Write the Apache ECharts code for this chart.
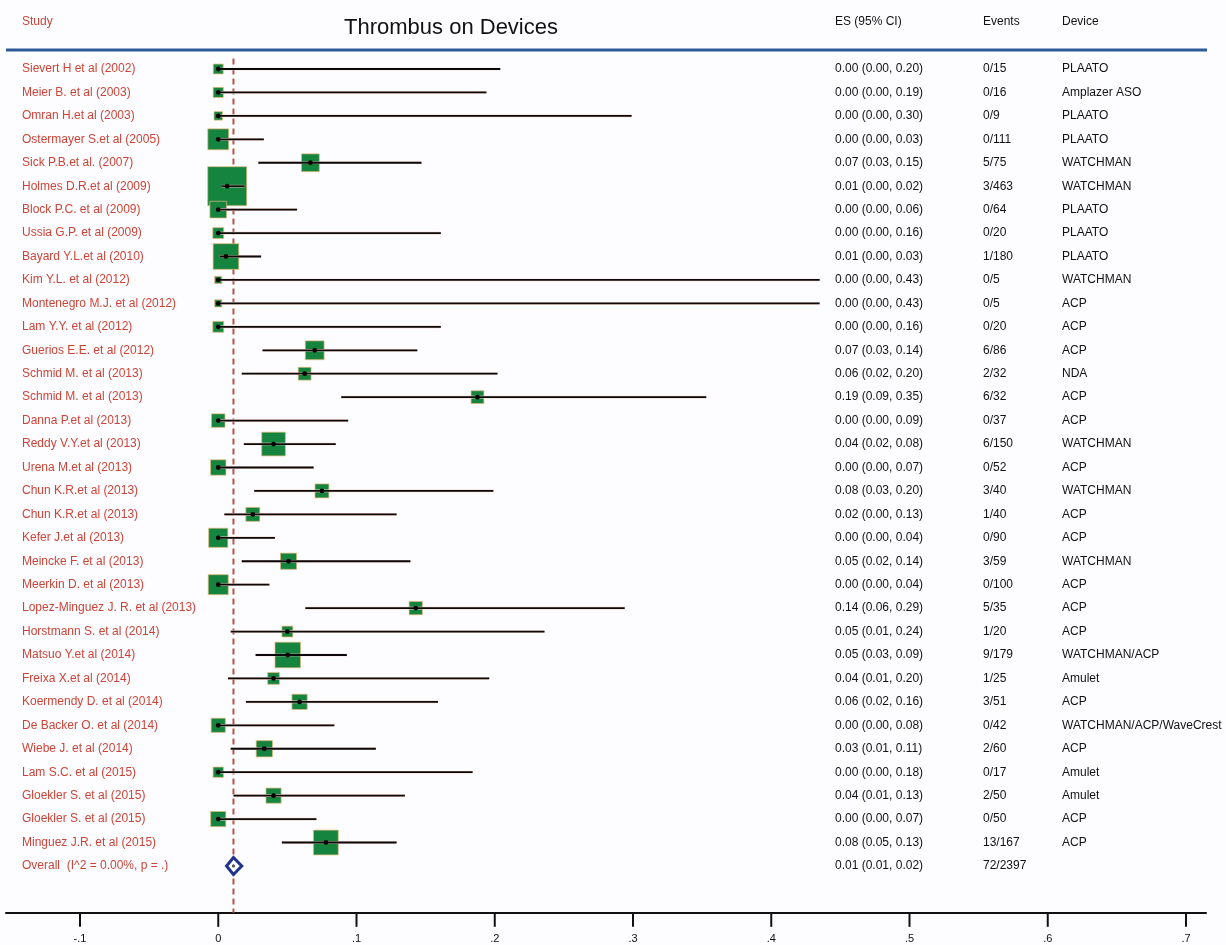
<!DOCTYPE html>
<html><head><meta charset="utf-8">
<script src="https://cdn.jsdelivr.net/npm/echarts@6/dist/echarts.min.js"></script>
<style>html,body{margin:0;padding:0;background:#fdfdff}#c{width:1226px;height:945px}</style>
</head><body><div id="c"></div>
<script>
const studies = [
  'Sievert H et al (2002)','Meier B. et al (2003)','Omran H.et al (2003)','Ostermayer S.et al (2005)',
  'Sick P.B.et al. (2007)','Holmes D.R.et al (2009)','Block P.C. et al (2009)','Ussia G.P. et al (2009)',
  'Bayard Y.L.et al (2010)','Kim Y.L. et al (2012)','Montenegro M.J. et al (2012)','Lam Y.Y. et al (2012)',
  'Guerios E.E. et al (2012)','Schmid M. et al (2013)','Schmid M. et al (2013)','Danna P.et al (2013)',
  'Reddy V.Y.et al (2013)','Urena M.et al (2013)','Chun K.R.et al (2013)','Chun K.R.et al (2013)',
  'Kefer J.et al (2013)','Meincke F. et al (2013)','Meerkin D. et al (2013)','Lopez-Minguez J. R. et al (2013)',
  'Horstmann S. et al (2014)','Matsuo Y.et al (2014)','Freixa X.et al (2014)','Koermendy D. et al (2014)',
  'De Backer O. et al (2014)','Wiebe J. et al (2014)','Lam S.C. et al (2015)','Gloekler S. et al (2015)',
  'Gloekler S. et al (2015)','Minguez J.R. et al (2015)'
];
const events = [0,0,0,0,5,3,0,0,1,0,0,0,6,2,6,0,6,0,3,1,0,3,0,5,1,9,1,3,0,2,0,2,0,13];
const totals = [15,16,9,111,75,463,64,20,180,5,5,20,86,32,32,37,150,52,40,40,90,59,100,35,20,179,25,51,42,60,17,50,50,167];
const ciLow = [0,0,0,0,0.029,0.0022,0,0,0.001,0,0,0,0.032,0.017,0.089,0,0.0185,0,0.026,0.0044,0,0.017,0,0.063,0.009,0.027,0.007,0.020,0,0.009,0,0.011,0,0.046];
const ciHigh = [0.204,0.194,0.299,0.033,0.147,0.019,0.057,0.161,0.031,0.435,0.435,0.161,0.144,0.202,0.353,0.094,0.085,0.069,0.199,0.129,0.041,0.139,0.037,0.294,0.236,0.093,0.196,0.159,0.084,0.114,0.184,0.135,0.071,0.129];
const esText = [
  '0.00 (0.00, 0.20)','0.00 (0.00, 0.19)','0.00 (0.00, 0.30)','0.00 (0.00, 0.03)','0.07 (0.03, 0.15)',
  '0.01 (0.00, 0.02)','0.00 (0.00, 0.06)','0.00 (0.00, 0.16)','0.01 (0.00, 0.03)','0.00 (0.00, 0.43)',
  '0.00 (0.00, 0.43)','0.00 (0.00, 0.16)','0.07 (0.03, 0.14)','0.06 (0.02, 0.20)','0.19 (0.09, 0.35)',
  '0.00 (0.00, 0.09)','0.04 (0.02, 0.08)','0.00 (0.00, 0.07)','0.08 (0.03, 0.20)','0.02 (0.00, 0.13)',
  '0.00 (0.00, 0.04)','0.05 (0.02, 0.14)','0.00 (0.00, 0.04)','0.14 (0.06, 0.29)','0.05 (0.01, 0.24)',
  '0.05 (0.03, 0.09)','0.04 (0.01, 0.20)','0.06 (0.02, 0.16)','0.00 (0.00, 0.08)','0.03 (0.01, 0.11)',
  '0.00 (0.00, 0.18)','0.04 (0.01, 0.13)','0.00 (0.00, 0.07)','0.08 (0.05, 0.13)'
];
const devices = [
  'PLAATO','Amplazer ASO','PLAATO','PLAATO','WATCHMAN','WATCHMAN','PLAATO','PLAATO','PLAATO','WATCHMAN',
  'ACP','ACP','ACP','NDA','ACP','ACP','WATCHMAN','ACP','WATCHMAN','ACP','ACP','WATCHMAN','ACP','ACP','ACP',
  'WATCHMAN/ACP','Amulet','ACP','WATCHMAN/ACP/WaveCrest','ACP','Amulet','Amulet','ACP','ACP'
];
const overallLabel = 'Overall  (I^2 = 0.00%, p = .)';
const overallES = 0.011, overallLow = 0.006, overallHigh = 0.017;
const overallText = '0.01 (0.01, 0.02)';
const overallEvents = '72/2397';
const xTickValues = [-0.1, 0, 0.1, 0.2, 0.3, 0.4, 0.5, 0.6, 0.7];
const xTickLabels = ['-.1','0','.1','.2','.3','.4','.5','.6','.7'];
const refValue = 0.011;

const FONT = '"Liberation Sans", Arial, sans-serif';
const RED = '#cc4438';
const COL = {study: 22, es: 835, events: 983, device: 1062};
const AXIS_ROW = 36;

const studyData = studies.map((s, i) => [events[i] / totals[i], i, ciLow[i], ciHigh[i], totals[i]]);

function txt(x, y, t, color) {
  return {type: 'text', style: {x: x, y: y, text: t, fill: color, font: '12px ' + FONT, verticalAlign: 'middle', align: 'left'}};
}

function renderStudy(params, api) {
  const i = params.dataIndex;
  const es = api.value(0), idx = api.value(1), lo = api.value(2), hi = api.value(3), n = api.value(4);
  const c = api.coord([es, idx]), a = api.coord([lo, idx]), b = api.coord([hi, idx]);
  const s = 3.5 + 1.65 * Math.sqrt(n);
  return {type: 'group', children: [
    {type: 'rect', shape: {x: c[0] - s / 2, y: c[1] - s / 2, width: s, height: s}, style: {fill: '#14843f', stroke: '#e6b878', lineWidth: 0.7}},
    {type: 'line', shape: {x1: a[0], y1: a[1], x2: b[0], y2: b[1]}, style: {stroke: '#f4cfc4', lineWidth: 2.6}},
    {type: 'line', shape: {x1: a[0], y1: a[1], x2: b[0], y2: b[1]}, style: {stroke: '#0a0a0a', lineWidth: 1.8}},
    {type: 'circle', shape: {cx: c[0], cy: c[1], r: 2.4}, style: {fill: '#000'}},
    txt(COL.study, c[1], studies[i], RED),
    txt(COL.es, c[1], esText[i], '#111'),
    txt(COL.events, c[1], events[i] + '/' + totals[i], '#111'),
    txt(COL.device, c[1], devices[i], '#111')
  ]};
}

function renderOverall(params, api) {
  const es = api.value(0), idx = api.value(1), lo = api.value(2), hi = api.value(3);
  const c = api.coord([es, idx]), a = api.coord([lo, idx]), b = api.coord([hi, idx]);
  const h = 8.5;
  return {type: 'group', children: [
    {type: 'polygon', shape: {points: [[a[0], a[1]], [c[0], c[1] - h], [b[0], b[1]], [c[0], c[1] + h]]}, style: {fill: '#fff', stroke: '#23328c', lineWidth: 3}},
    {type: 'circle', shape: {cx: c[0], cy: c[1], r: 1.6}, style: {fill: '#555'}},
    txt(COL.study, c[1], overallLabel, RED),
    txt(COL.es, c[1], overallText, '#111'),
    txt(COL.events, c[1], overallEvents, '#111')
  ]};
}

function renderRef(params, api) {
  const p1 = api.coord([api.value(0), -0.45]);
  const p2 = api.coord([api.value(0), AXIS_ROW]);
  return {type: 'line', shape: {x1: p1[0], y1: p1[1], x2: p2[0], y2: p2[1]}, style: {stroke: '#b5554b', lineWidth: 2, lineDash: [6, 4]}};
}

function renderTick(params, api) {
  const p = api.coord([api.value(0), AXIS_ROW]);
  return {type: 'group', children: [
    {type: 'rect', shape: {x: p[0] - 1, y: p[1], width: 2, height: 14}, style: {fill: '#111'}},
    {type: 'text', style: {x: p[0], y: p[1] + 26, text: xTickLabels[params.dataIndex], fill: '#111', font: '11px ' + FONT, align: 'center', verticalAlign: 'middle'}}
  ]};
}

const chart = echarts.init(document.getElementById('c'), null, {renderer: 'canvas'});
const gridTop = 45.56, gridBottom = 32.16;
chart.setOption({
  backgroundColor: '#fdfdff',
  animation: false,
  grid: [
    {left: 6, right: 20, top: gridTop, bottom: gridBottom},
    {left: 80, right: 40, top: gridTop, bottom: gridBottom}
  ],
  xAxis: [
    {gridIndex: 0, type: 'value', min: 0, max: 1, axisLine: {show: true, onZero: false, lineStyle: {color: '#111', width: 2}}, axisTick: {show: false}, axisLabel: {show: false}, splitLine: {show: false}},
    {gridIndex: 1, type: 'value', min: -0.1, max: 0.7, interval: 0.1, show: false}
  ],
  yAxis: [
    {gridIndex: 0, type: 'value', min: -1, max: AXIS_ROW, inverse: true, show: false},
    {gridIndex: 1, type: 'value', min: -1, max: AXIS_ROW, inverse: true, show: false}
  ],
  graphic: [
    {type: 'line', shape: {x1: 6, y1: 50, x2: 1207, y2: 50}, style: {stroke: '#2d5b98', lineWidth: 3}},
    {type: 'text', x: 451, y: 28, style: {text: 'Thrombus on Devices', fill: '#111', font: '22px ' + FONT, align: 'center', verticalAlign: 'middle'}},
    {type: 'text', x: COL.study, y: 22, style: {text: 'Study', fill: RED, font: '12px ' + FONT, verticalAlign: 'middle'}},
    {type: 'text', x: COL.es, y: 22, style: {text: 'ES (95% CI)', fill: '#111', font: '12px ' + FONT, verticalAlign: 'middle'}},
    {type: 'text', x: COL.events, y: 22, style: {text: 'Events', fill: '#111', font: '12px ' + FONT, verticalAlign: 'middle'}},
    {type: 'text', x: COL.device, y: 22, style: {text: 'Device', fill: '#111', font: '12px ' + FONT, verticalAlign: 'middle'}}
  ],
  series: [
    {type: 'custom', xAxisIndex: 1, yAxisIndex: 1, renderItem: renderRef, data: [[refValue, 0]], z: 1, silent: true, clip: false},
    {type: 'custom', xAxisIndex: 1, yAxisIndex: 1, renderItem: renderTick, data: xTickValues.map(v => [v, AXIS_ROW]), z: 4, silent: true, clip: false},
    {type: 'custom', xAxisIndex: 1, yAxisIndex: 1, renderItem: renderStudy, data: studyData, z: 2, silent: true, clip: false},
    {type: 'custom', xAxisIndex: 1, yAxisIndex: 1, renderItem: renderOverall, data: [[overallES, studies.length, overallLow, overallHigh]], z: 3, silent: true, clip: false}
  ]
});
</script>
</body></html>
